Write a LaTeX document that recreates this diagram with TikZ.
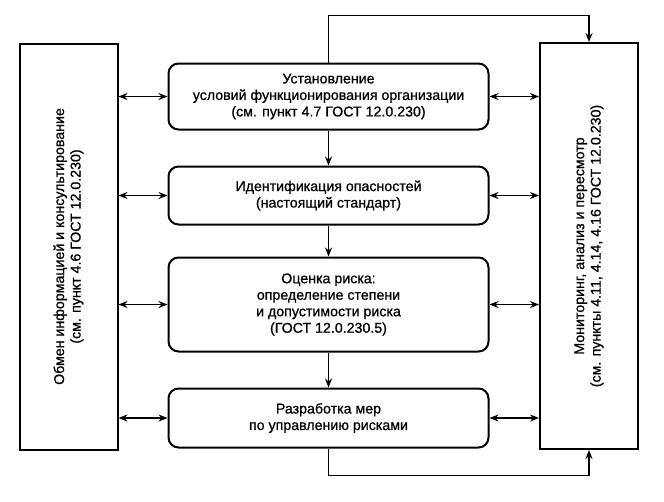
\documentclass[tikz,border=0pt]{standalone}
\usepackage{fontspec}
\setmainfont{Liberation Sans}[FakeBold=0.8]
\usetikzlibrary{arrows.meta}
\tikzset{
	blocco/.style={draw, line width=2pt, rounded corners=10pt, minimum width=320pt, align=center, font=\fontsize{14.2}{16.5}\selectfont},
	lato/.style={draw, line width=2pt, minimum width=98pt, minimum height=406pt},
	testo/.style={rotate=90, align=center, font=\fontsize{14.2}{16.5}\selectfont},
	freccia/.style={line width=1.8pt, -{Stealth[length=9pt,width=7pt]}},
	doppia/.style={line width=1.8pt, {Stealth[length=9pt,width=7pt]}-{Stealth[length=9pt,width=7pt]}}
}
\begin{document}
\begin{tikzpicture}[x=1pt, y=-1pt]
		\useasboundingbox (0,0) rectangle (664,501);

		% Blocchi laterali
		\node[lato] (info) at (68.5,246.5) {};
		\node[testo] (infot) at (info) {Обмен информацией и консультирование\\(см. пункт 4.6 ГОСТ 12.0.230)};
		\node[lato] (mon) at (589,246) {};
		\node[testo] (mont) at (mon) {Мониторинг, анализ и пересмотр\\(см. пункты 4.11, 4.14, 4.16 ГОСТ 12.0.230)};

		% Blocchi centrali
		\node[blocco, minimum height=66pt] (usl) at (328.5,96.5) {Установление\\условий функционирования организации\\(см. пункт 4.7 ГОСТ 12.0.230)};
		\node[blocco, minimum height=58pt] (ident) at (328.5,195.5) {Идентификация опасностей\\(настоящий стандарт)};
		\node[blocco, minimum height=94pt] (ocen) at (328.5,304.5) {Оценка риска:\\определение степени\\и допустимости риска\\(ГОСТ 12.0.230.5)};
		\node[blocco, minimum height=59pt] (razr) at (328.5,418) {Разработка мер\\по управлению рисками};

		% Frecce verticali
		\draw[freccia] (usl) -- (ident);
		\draw[freccia] (ident) -- (ocen);
		\draw[freccia] (ocen) -- (razr);

		% Frecce doppie
		\foreach \b in {usl, ident, ocen, razr} {
			\draw[doppia] (\b.west -| info.east) -- (\b.west);
			\draw[doppia] (\b.east) -- (\b.east -| mon.west);
		}

		% Anello di monitoraggio
		\draw[freccia] (usl.north) -- ++(0,-47) -| (mon.north);
		\draw[freccia] (razr.south) -- ++(0,27) -| (mon.south);
	\end{tikzpicture}
\end{document}
